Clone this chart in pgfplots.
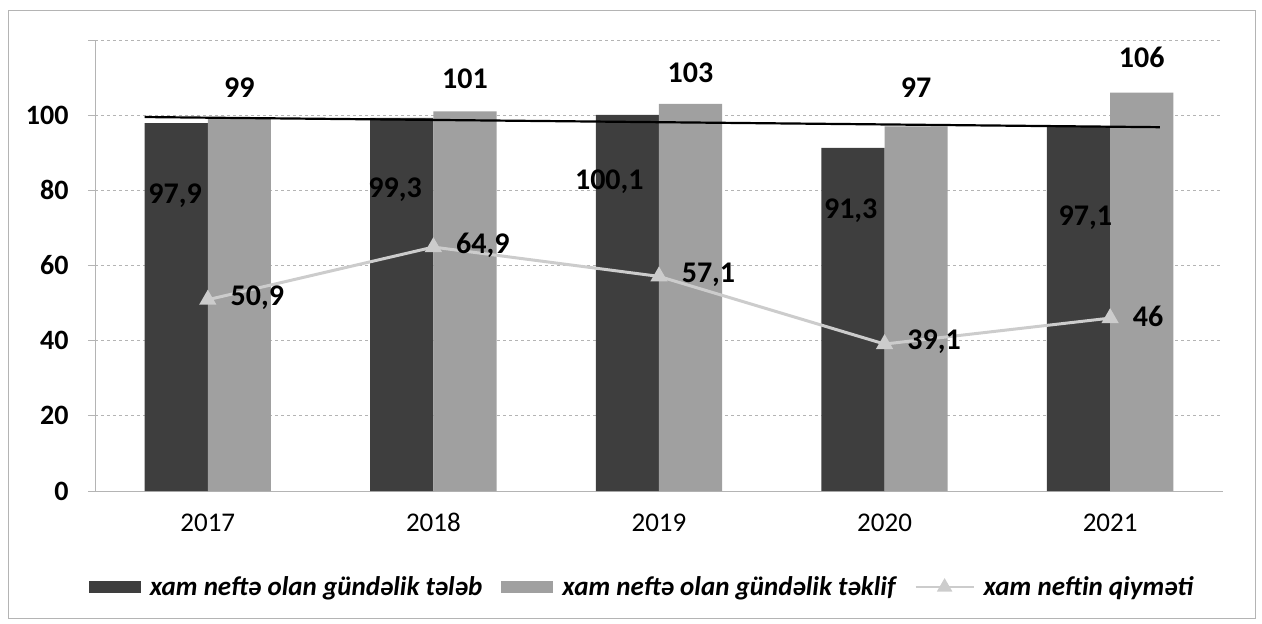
\documentclass[border=0pt]{standalone}
\usepackage{fontspec}
\setmainfont{Carlito}
\usepackage{pgfplots}
\pgfplotsset{compat=1.18}
\definecolor{dk}{HTML}{3E3E3E}
\definecolor{lt}{HTML}{A0A0A0}
\definecolor{ln}{HTML}{CCCCCC}
\definecolor{gr}{HTML}{B4B4B4}
\pgfplotsset{
  dkleg/.style={legend image code/.code={\fill[dk] (0pt,-6pt) rectangle (52pt,6pt);}},
  ltleg/.style={legend image code/.code={\fill[lt] (0pt,-6pt) rectangle (52pt,6pt);}},
  lnleg/.style={legend image code/.code={\draw[ln, line width=2pt] (0pt,0pt) -- (58pt,0pt);
     \fill[ln] (29pt,0pt) ++(90:6pt) -- ++(-120:10.4pt) -- ++(0:10.4pt) -- cycle;}},
}
\begin{document}
\begin{tikzpicture}
\begin{axis}[
  at={(0,0)}, anchor=south west,
  scale only axis, width=1128pt, height=451pt,
  xmin=-0.5, xmax=4.5, ymin=0, ymax=120,
  xtick={0,...,4}, xticklabels={2017,2018,2019,2020,2021},
  ytick={0,20,...,120}, yticklabels={0,20,40,60,80,100,},
  ymajorgrids, grid style={gr, dashed, line width=0.8pt},
  axis line style={gr, line width=0.8pt},
  axis x line*=bottom, axis y line*=left,
  tick style={gr, line width=0.8pt}, major tick length=7pt,
  xtick style={draw=none}, tick align=outside,
  ticklabel style={font=\fontsize{27}{30}\selectfont, text=black},
  yticklabel style={xshift=-16pt, font=\fontsize{28}{30}\selectfont\bfseries},
  xticklabel style={yshift=-12pt},
  /pgf/number format/assume math mode=true,
  /pgf/number format/use comma,
  clip=false,
  legend columns=3,
  legend style={draw=none, fill=none, at={(0.485,-0.213)}, anchor=center,
    font=\fontsize{27}{30}\selectfont\bfseries\itshape,
    /tikz/every even column/.append style={column sep=17pt},
    /tikz/every odd column/.append style={column sep=7pt}},
]
\addplot[fill=dk, draw=none, ybar, bar width=0.28, bar shift=-0.14, dkleg]
  coordinates {(0,97.9) (1,99.3) (2,100.1) (3,91.3) (4,97.1)};
\addlegendentry{xam neftə olan gündəlik tələb}
\addplot[fill=lt, draw=none, ybar, bar width=0.28, bar shift=0.14, ltleg]
  coordinates {(0,99) (1,101) (2,103) (3,97) (4,106)};
\addlegendentry{xam neftə olan gündəlik təklif}
% trend line
\addplot[black, line width=2.2pt, forget plot] coordinates {(-0.28,99.5) (4.22,96.8)};
\addplot[ln, line width=3pt, mark=triangle*, mark size=7pt, mark options={fill=ln, draw=ln},
  nodes near coords, point meta=y,
  every node near coord/.append style={anchor=west, xshift=18pt, yshift=2pt, text=black,
    font=\fontsize{30}{32}\selectfont\bfseries},
  lnleg]
  coordinates {(0,50.9) (1,64.9) (2,57.1) (3,39.1) (4,46)};
\addlegendentry{xam neftin qiyməti}
% demand labels (positions as in the chart)
\addplot[draw=none, mark=none, forget plot, nodes near coords, point meta=explicit,
  every node near coord/.append style={anchor=center, text=black, inner sep=0pt,
    font=\fontsize{30}{32}\selectfont\bfseries}]
  coordinates {(-0.145,78.7) [97.9] (0.83,80.1) [99.3] (1.78,82.2) [100.1] (2.85,74.7) [91.3] (3.89,72.6) [97.1]};
% supply labels
\addplot[draw=none, mark=none, forget plot, nodes near coords, point meta=explicit,
  every node near coord/.append style={anchor=center, text=black, inner sep=0pt,
    font=\fontsize{30}{32}\selectfont\bfseries}]
  coordinates {(0.14,107.2) [99] (1.14,109.8) [101] (2.14,111.4) [103] (3.14,107.2) [97] (4.14,115.4) [106]};
\end{axis}
\draw[gr, line width=0.8pt] (-87pt,-127pt) rectangle (1160pt,481pt);
\useasboundingbox (-95pt,-133pt) rectangle (1167pt,491pt);
\end{tikzpicture}
\end{document}
